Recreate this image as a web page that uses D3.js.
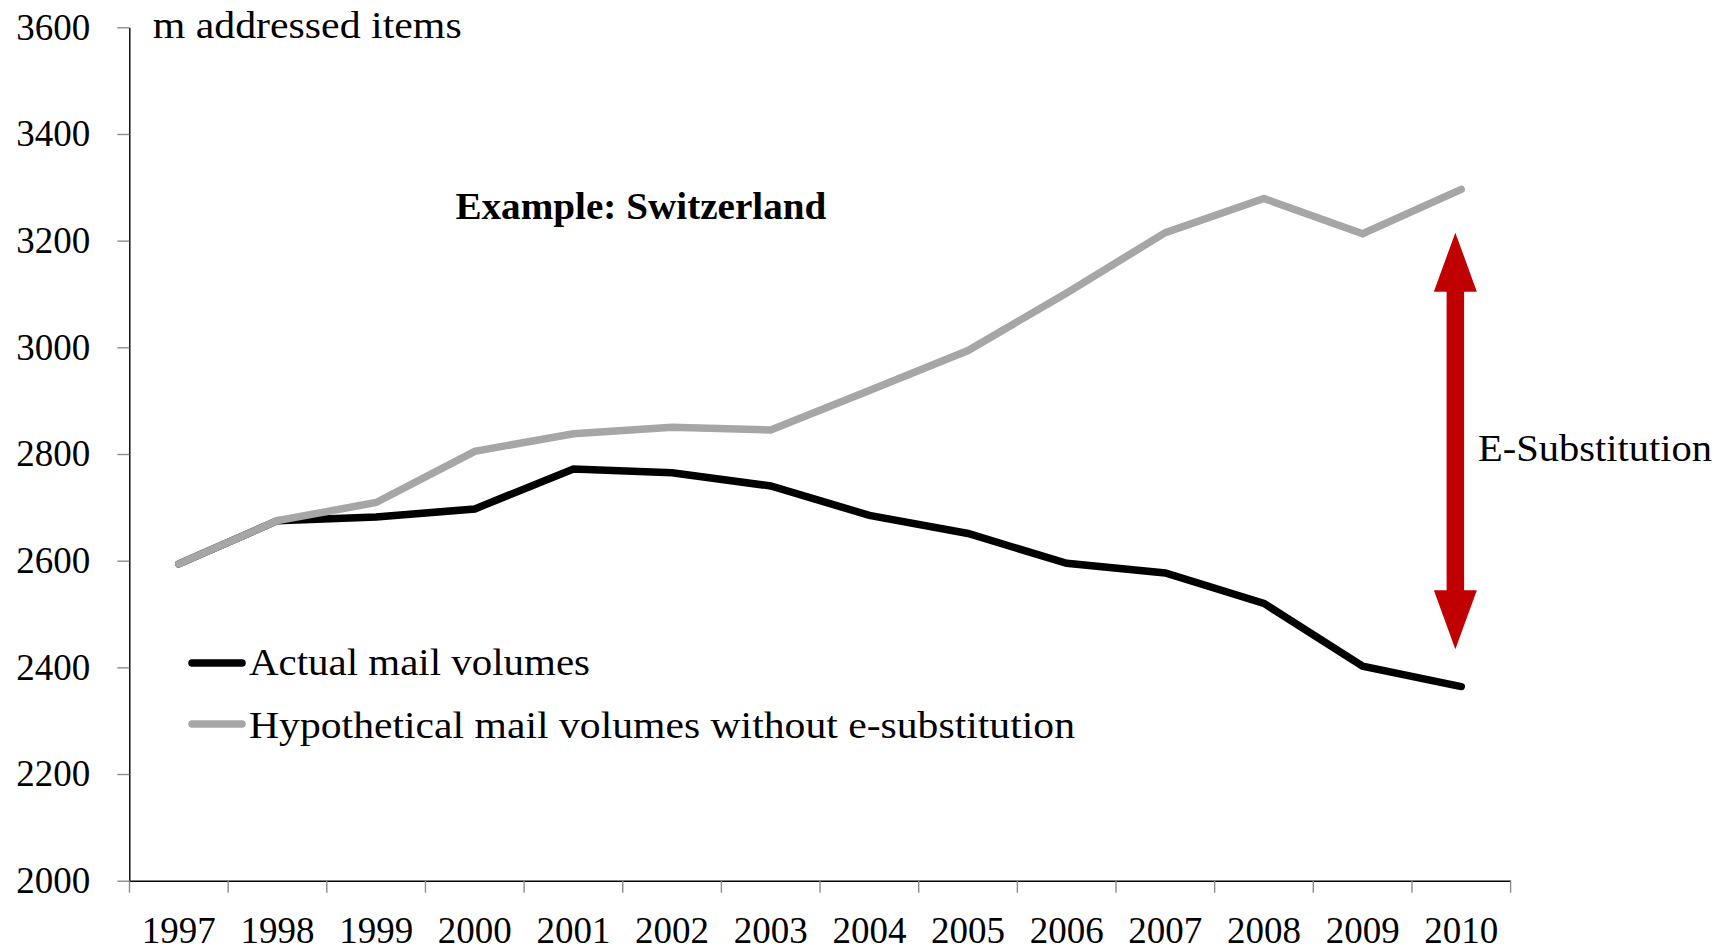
<!DOCTYPE html>
<html>
<head>
<meta charset="utf-8">
<script src="https://cdn.jsdelivr.net/npm/d3@7"></script>
<style>
  html, body { margin: 0; padding: 0; background: #fff; }
  svg { display: block; }
  text { font-family: "Liberation Serif", "Times New Roman", serif; fill: #000; }
</style>
</head>
<body>
<svg id="chart" width="1733" height="952"></svg>
<script>
const years = ["1997","1998","1999","2000","2001","2002","2003","2004","2005","2006","2007","2008","2009","2010"];
const actualVolumes = [2594, 2675, 2682, 2697, 2772, 2765, 2740, 2685, 2651, 2595, 2577, 2520, 2402, 2364];
const hypotheticalVolumes = [2594, 2675, 2709, 2805, 2838, 2850, 2845, 2919, 2994, 3102, 3215, 3279, 3213, 3296];
const yTicks = [2000, 2200, 2400, 2600, 2800, 3000, 3200, 3400, 3600];
const seriesNames = ["Actual mail volumes", "Hypothetical mail volumes without e-substitution"];
const seriesColors = ["#000000", "#A6A6A6"];
const arrowYear = "2010";
const arrowRange = [2434, 3215];
const unitLabel = "m addressed items";
const titleText = "Example: Switzerland";
const arrowLabel = "E-Substitution";

const svg = d3.select("#chart");
const FS = 38;
const TFS = 37;

const x = d3.scaleBand().domain(years).range([129.5, 1510.6]).padding(0);
const y = d3.scaleLinear().domain([2000, 3600]).range([880.7, 27.3]);
const bw = x.bandwidth();
const cx = d => x(d) + bw / 2;

// Y axis
const yAxis = svg.append("g").attr("transform", "translate(129.3,0)")
  .call(d3.axisLeft(y).tickValues(yTicks).tickSize(12).tickSizeOuter(0).tickPadding(27).tickFormat(d3.format("d")));
yAxis.select(".domain").attr("stroke", "#000").attr("stroke-width", 1.4);
yAxis.selectAll(".tick line").attr("stroke", "#8c8c8c").attr("stroke-width", 1.4);
yAxis.selectAll(".tick text").attr("font-size", TFS).attr("font-family", "Liberation Serif").attr("fill", "#000");

// X axis (labels at band centers)
const xAxis = svg.append("g").attr("transform", "translate(0,880.7)")
  .call(d3.axisBottom(x).tickSize(0).tickSizeOuter(0).tickPadding(36));
xAxis.select(".domain").attr("stroke", "#000").attr("stroke-width", 1.4);
xAxis.selectAll(".tick text").attr("font-size", TFS).attr("font-family", "Liberation Serif").attr("fill", "#000");
// X tick marks at band boundaries
const boundaries = years.map(d => x(d)).concat([x(years[years.length - 1]) + bw]);
xAxis.selectAll(".bnd").data(boundaries).enter().append("line")
  .attr("class", "bnd")
  .attr("x1", d => d).attr("x2", d => d)
  .attr("y1", 0).attr("y2", 12)
  .attr("stroke", "#8c8c8c").attr("stroke-width", 1.4);

// Lines (actual first, hypothetical on top)
const line = d3.line().x((d, i) => cx(years[i])).y(d => y(d));
[actualVolumes, hypotheticalVolumes].forEach((vals, k) => {
  svg.append("path").datum(vals)
    .attr("d", line)
    .attr("fill", "none")
    .attr("stroke", seriesColors[k])
    .attr("stroke-width", 7.5)
    .attr("stroke-linecap", "round")
    .attr("stroke-linejoin", "miter");
});

// Arrow
const ax = x(arrowYear) + bw * 0.44;
const yTop = y(arrowRange[1]), yBot = y(arrowRange[0]);
const sw = 8.75, hw = 21.5, hl = 59;
const arrowPath = [
  [ax, yTop], [ax + hw, yTop + hl], [ax + sw, yTop + hl], [ax + sw, yBot - hl], [ax + hw, yBot - hl],
  [ax, yBot], [ax - hw, yBot - hl], [ax - sw, yBot - hl], [ax - sw, yTop + hl], [ax - hw, yTop + hl]
];
svg.append("path").attr("d", d3.line()(arrowPath) + "Z").attr("fill", "#C00000");

// Texts
svg.append("text").attr("x", 152.7).attr("y", 38.3).attr("font-size", FS)
  .attr("textLength", 309).attr("lengthAdjust", "spacingAndGlyphs").text(unitLabel);
svg.append("text").attr("x", 455.4).attr("y", 219).attr("font-size", FS).attr("font-weight", "bold")
  .attr("textLength", 371).attr("lengthAdjust", "spacingAndGlyphs").text(titleText);
svg.append("text").attr("x", 1478).attr("y", 461).attr("font-size", FS)
  .attr("textLength", 234).attr("lengthAdjust", "spacingAndGlyphs").text(arrowLabel);

// Legend
const legendY = [663, 724];
const legendBase = [675, 738];
const legendLen = [341, 826];
seriesNames.forEach((name, i) => {
  svg.append("line").attr("x1", 192).attr("x2", 242).attr("y1", legendY[i]).attr("y2", legendY[i])
    .attr("stroke", seriesColors[i]).attr("stroke-width", 7.5).attr("stroke-linecap", "round");
  svg.append("text").attr("x", 249).attr("y", legendBase[i]).attr("font-size", FS)
    .attr("textLength", legendLen[i]).attr("lengthAdjust", "spacingAndGlyphs").text(name);
});
</script>
</body>
</html>
